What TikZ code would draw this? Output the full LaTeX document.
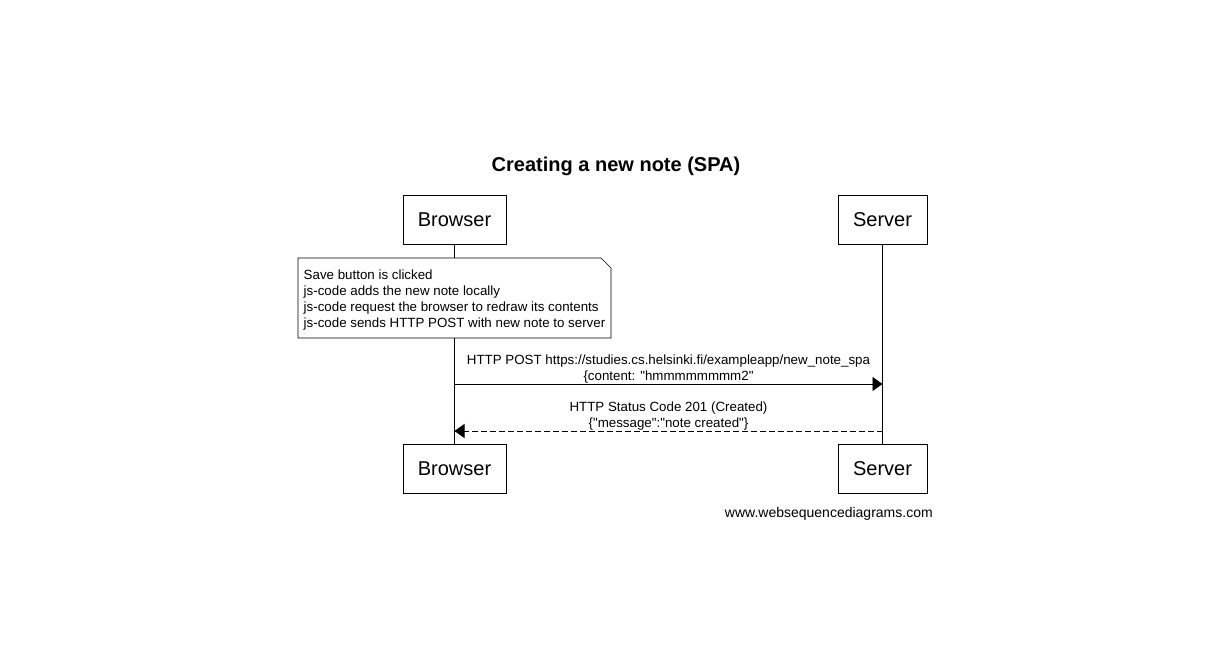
\documentclass[tikz,border=0pt]{standalone}
\usepackage{fontspec}
\setmainfont{Liberation Sans}
\usetikzlibrary{arrows.meta,positioning}

\begin{document}
\begin{tikzpicture}[x=0.75pt,y=-0.75pt,
    actor/.style={draw, minimum height=36.75pt, inner xsep=11.25pt, font=\fontsize{15}{18}\selectfont},
    msg/.style={align=center, inner sep=0pt, font=\fontsize{10}{12}\selectfont},
    call/.style={-{Triangle[length=7.5pt,width=10.5pt]}},
    reply/.style={call, dashed, dash pattern=on 4.5pt off 2.25pt}]
    \useasboundingbox (0,0) rectangle (1221,668);

    % Title
    \node[font=\fontsize{15}{18}\selectfont\bfseries] (title) at (616,166) {Creating a new note (SPA)};

    % Participants at top and bottom
    \node[actor] (browser) at (454.5,219.5) {Browser};
    \node[actor] (server) at (882.5,219.5) {Server};
    \node[actor] (browser2) at (454.5,468.5) {Browser};
    \node[actor] (server2) at (882.5,468.5) {Server};

    % Lifelines
    \draw (browser) -- (browser2);
    \draw (server) -- (server2);

    % Note over the browser
    \coordinate (nnw) at (298,258);
    \coordinate (nse) at (611,338);
    \fill[white] (nnw) rectangle (nse);
    \draw (nnw) -- ([xshift=-7.5pt]nnw -| nse) -- ([yshift=-7.5pt]nnw -| nse) -- (nse) -- (nnw |- nse) -- cycle;
    \node[align=left, inner sep=0pt, font=\fontsize{10}{12}\selectfont] (note) at (454.5,300) {Save button is clicked\\
        js-code adds the new note locally\\
        js-code request the browser to redraw its contents\\
        js-code sends HTTP POST with new note to server};

    % Messages
    \coordinate (post) at (0,384);
    \coordinate (created) at (0,431);
    \draw[call] (browser |- post) -- node[msg, above] (postlbl) {HTTP POST https://studies.cs.helsinki.fi/exampleapp/new\_note\_spa\\
        \{content: \textquotedbl hmmmmmmmm2\textquotedbl} (server |- post);
    \draw[reply] (server |- created) -- node[msg, above] (createdlbl) {HTTP Status Code 201 (Created)\\
        \{\textquotedbl message\textquotedbl:\textquotedbl note created\textquotedbl\}} (browser |- created);

    % Watermark
    \node[anchor=east, inner sep=0pt, font=\fontsize{10.5}{12}\selectfont] (wsd) at (933,514) {www.websequencediagrams.com};
\end{tikzpicture}
\end{document}
